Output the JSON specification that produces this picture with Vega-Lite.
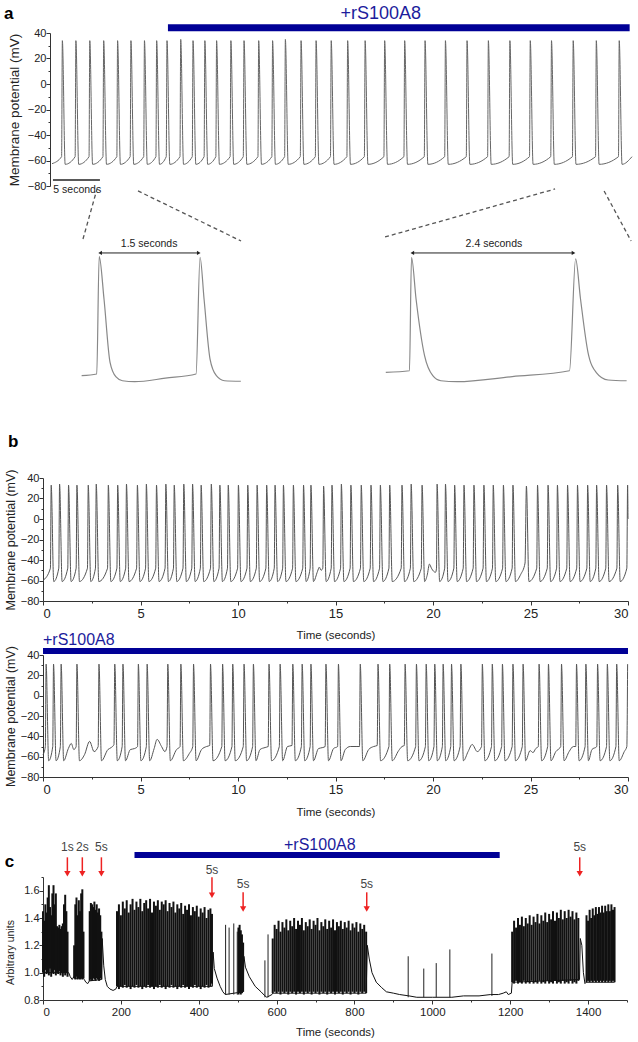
{
"$schema":"https://vega.github.io/schema/vega-lite/v6.json",
"padding":{"left":4,"top":4,"right":0,"bottom":0},
"bounds":"flush",
"spacing":0,
"config":{
 "view":{"stroke":null},
 "font":"Liberation Sans",
 "axis":{"grid":false,"labelOverlap":false,"tickCount":100,"domainColor":"#333","tickColor":"#333","labelColor":"#222","titleColor":"#222","labelFont":"Liberation Sans","titleFont":"Liberation Sans","titleFontWeight":"normal","labelFontSize":11,"titleFontSize":11.5},
 "axisX":{"tickSize":4,"labelPadding":2},
 "axisY":{"tickSize":3,"labelPadding":0}
},
"datasets":{
 "a":[{"t":0.96,"v":-62.5},{"t":1.98,"v":-57},
{"t":2.06,"v":34},{"t":2.36,"v":-63},{"t":3.42,"v":-57},
{"t":3.5,"v":34},{"t":3.8,"v":-63},{"t":4.9,"v":-57},
{"t":4.98,"v":34},{"t":5.28,"v":-63},{"t":6.38,"v":-57},
{"t":6.46,"v":34},{"t":6.76,"v":-63},{"t":7.86,"v":-57},
{"t":7.94,"v":34},{"t":8.24,"v":-63},{"t":9.28,"v":-57},
{"t":9.36,"v":34},{"t":9.66,"v":-63},{"t":10.72,"v":-57},
{"t":10.8,"v":34},{"t":11.1,"v":-63},{"t":12.02,"v":-57},
{"t":12.1,"v":34},{"t":12.4,"v":-63},{"t":13.12,"v":-57},
{"t":13.2,"v":34},{"t":13.5,"v":-63},{"t":14.58,"v":-57},
{"t":14.66,"v":35},{"t":14.96,"v":-63},{"t":15.89,"v":-57},
{"t":15.97,"v":34},{"t":16.27,"v":-63},{"t":17.15,"v":-57},
{"t":17.23,"v":34},{"t":17.53,"v":-63},{"t":18.4,"v":-57},
{"t":18.48,"v":34},{"t":18.78,"v":-63},{"t":19.92,"v":-57},
{"t":20.0,"v":34},{"t":20.3,"v":-63},{"t":21.32,"v":-57},
{"t":21.4,"v":34},{"t":21.7,"v":-63},{"t":22.88,"v":-57},
{"t":22.96,"v":34},{"t":23.26,"v":-63},{"t":24.36,"v":-57},
{"t":24.44,"v":34},{"t":24.74,"v":-63},{"t":25.72,"v":-57},
{"t":25.8,"v":35},{"t":26.1,"v":-63},{"t":27.39,"v":-57},
{"t":27.47,"v":34},{"t":27.77,"v":-63},{"t":28.99,"v":-57},
{"t":29.07,"v":34},{"t":29.37,"v":-63},{"t":30.6,"v":-57},
{"t":30.68,"v":34},{"t":30.98,"v":-63},{"t":32.35,"v":-57},
{"t":32.43,"v":34},{"t":32.73,"v":-63},{"t":34.21,"v":-57},
{"t":34.29,"v":34},{"t":34.59,"v":-63},{"t":36.29,"v":-57},
{"t":36.37,"v":34},{"t":36.67,"v":-63},{"t":38.42,"v":-57},
{"t":38.5,"v":34},{"t":38.8,"v":-63},{"t":40.59,"v":-57},
{"t":40.67,"v":34},{"t":40.97,"v":-63},{"t":42.76,"v":-57},
{"t":42.84,"v":34},{"t":43.14,"v":-63},{"t":45.06,"v":-57},
{"t":45.14,"v":34},{"t":45.44,"v":-63},{"t":47.33,"v":-57},
{"t":47.41,"v":34},{"t":47.71,"v":-63},{"t":49.62,"v":-57},
{"t":49.7,"v":34},{"t":50.0,"v":-63},{"t":51.79,"v":-57},
{"t":51.87,"v":34},{"t":52.17,"v":-63},{"t":54.05,"v":-57},
{"t":54.13,"v":34},{"t":54.43,"v":-63},{"t":56.36,"v":-57},
{"t":56.44,"v":34},{"t":56.74,"v":-63},{"t":58.82,"v":-57},
{"t":58.9,"v":34},{"t":59.2,"v":-63},{"t":61.26,"v":-57},
{"t":61.34,"v":34},{"t":61.64,"v":-63},{"t":62.7,"v":-57}],
 "ins":[{"t":0.568,"v":-58.3,"s":"L"},{"t":0.79,"v":-57,"s":"L"},{"t":0.826,"v":33.5,"s":"L"},{"t":0.897,"v":0.7,"s":"L"},{"t":0.985,"v":-47.8,"s":"L"},{"t":1.074,"v":-59.3,"s":"L"},{"t":1.168,"v":-62.2,"s":"L"},{"t":1.349,"v":-62.9,"s":"L"},{"t":1.8,"v":-60.2,"s":"L"},{"t":2.25,"v":-57,"s":"L"},{"t":2.309,"v":32.8,"s":"L"},{"t":2.368,"v":0.7,"s":"L"},{"t":2.456,"v":-45.5,"s":"L"},{"t":2.549,"v":-58.3,"s":"L"},{"t":2.669,"v":-62.2,"s":"L"},{"t":2.909,"v":-62.6,"s":"L"},
{"t":5.04,"v":-55.7,"s":"R"},{"t":5.388,"v":-54.5,"s":"R"},{"t":5.418,"v":32.8,"s":"R"},{"t":5.485,"v":0.7,"s":"R"},{"t":5.61,"v":-42.9,"s":"R"},{"t":5.731,"v":-58.3,"s":"R"},{"t":5.85,"v":-62.2,"s":"R"},{"t":6.088,"v":-62.9,"s":"R"},{"t":6.9,"v":-59,"s":"R"},{"t":7.741,"v":-54.5,"s":"R"},{"t":7.831,"v":31.5,"s":"R"},{"t":7.903,"v":0.7,"s":"R"},{"t":8.012,"v":-40.1,"s":"R"},{"t":8.132,"v":-55.7,"s":"R"},{"t":8.309,"v":-61.6,"s":"R"},{"t":8.581,"v":-62.2,"s":"R"}],
 "dash":[{"t":0.794,"v":85.3,"s":"1"},{"t":0.588,"v":46.8,"s":"1"},{"t":1.397,"v":83.8,"s":"2"},{"t":2.912,"v":45.3,"s":"2"},{"t":7.529,"v":85.3,"s":"3"},{"t":5.029,"v":48.4,"s":"3"},{"t":8.25,"v":83.8,"s":"4"},{"t":8.647,"v":45.3,"s":"4"}],
 "arr":[{"t0":0.84,"t1":2.29,"tm":1.56,"v":36.1,"s":"1.5 seconds"},{"t0":5.43,"t1":7.8,"tm":6.63,"v":36.1,"s":"2.4 seconds"}],
 "b1":[{"t":0,"v":-60},{"t":0.38,"v":-48},
{"t":0.42,"v":33},{"t":0.55,"v":-61},{"t":0.81,"v":-48},
{"t":0.85,"v":34},{"t":0.98,"v":-61},{"t":1.27,"v":-48},
{"t":1.31,"v":33},{"t":1.44,"v":-61},{"t":1.7,"v":-48},
{"t":1.74,"v":33},{"t":1.87,"v":-61},{"t":2.28,"v":-48},
{"t":2.32,"v":33},{"t":2.45,"v":-61},{"t":2.69,"v":-48},
{"t":2.73,"v":34},{"t":2.86,"v":-61},{"t":3.31,"v":-48},
{"t":3.35,"v":33},{"t":3.48,"v":-61},{"t":3.79,"v":-48},
{"t":3.83,"v":33},{"t":3.96,"v":-61},{"t":4.24,"v":-48},
{"t":4.28,"v":34},{"t":4.41,"v":-61},{"t":4.8,"v":-48},
{"t":4.84,"v":33},{"t":4.97,"v":-61},{"t":5.26,"v":-48},
{"t":5.3,"v":34},{"t":5.43,"v":-61},{"t":5.78,"v":-48},
{"t":5.82,"v":33},{"t":5.95,"v":-61},{"t":6.26,"v":-48},
{"t":6.3,"v":34},{"t":6.43,"v":-61},{"t":6.69,"v":-48},
{"t":6.73,"v":33},{"t":6.86,"v":-61},{"t":7.18,"v":-48},
{"t":7.22,"v":34},{"t":7.35,"v":-61},{"t":7.63,"v":-48},
{"t":7.67,"v":34},{"t":7.8,"v":-61},{"t":8.07,"v":-48},
{"t":8.11,"v":33},{"t":8.24,"v":-61},{"t":8.59,"v":-48},
{"t":8.63,"v":34},{"t":8.76,"v":-61},{"t":9.03,"v":-48},
{"t":9.07,"v":33},{"t":9.2,"v":-61},{"t":9.46,"v":-48},
{"t":9.5,"v":33},{"t":9.63,"v":-61},{"t":9.98,"v":-48},
{"t":10.02,"v":33},{"t":10.15,"v":-61},{"t":10.46,"v":-48},
{"t":10.5,"v":33},{"t":10.63,"v":-61},{"t":10.94,"v":-48},
{"t":10.98,"v":33},{"t":11.11,"v":-61},{"t":11.43,"v":-48},
{"t":11.47,"v":33},{"t":11.6,"v":-61},{"t":11.86,"v":-48},
{"t":11.9,"v":33},{"t":12.03,"v":-61},{"t":12.29,"v":-48},
{"t":12.33,"v":33},{"t":12.46,"v":-61},{"t":12.8,"v":-48},
{"t":12.84,"v":33},{"t":12.97,"v":-61},{"t":13.32,"v":-48},
{"t":13.36,"v":33},{"t":13.49,"v":-61},{"t":13.7,"v":-48},
{"t":13.74,"v":33},{"t":13.87,"v":-61},{"t":14.08,"v":-51},{"t":14.17,"v":-47},{"t":14.26,"v":-50},{"t":14.35,"v":-48},
{"t":14.39,"v":32},{"t":14.52,"v":-61},{"t":14.78,"v":-48},
{"t":14.82,"v":33},{"t":14.95,"v":-61},{"t":15.26,"v":-48},
{"t":15.3,"v":34},{"t":15.43,"v":-61},{"t":15.75,"v":-48},
{"t":15.79,"v":33},{"t":15.92,"v":-61},{"t":16.28,"v":-48},
{"t":16.32,"v":33},{"t":16.45,"v":-61},{"t":16.78,"v":-48},
{"t":16.82,"v":33},{"t":16.95,"v":-61},{"t":17.26,"v":-48},
{"t":17.3,"v":33},{"t":17.43,"v":-61},{"t":17.74,"v":-48},
{"t":17.78,"v":33},{"t":17.91,"v":-61},{"t":18.37,"v":-48},
{"t":18.41,"v":33},{"t":18.54,"v":-61},{"t":18.84,"v":-48},
{"t":18.88,"v":34},{"t":19.01,"v":-61},{"t":19.4,"v":-48},
{"t":19.44,"v":33},{"t":19.57,"v":-61},{"t":19.7,"v":-55},{"t":19.82,"v":-44},{"t":19.92,"v":-48},{"t":20.03,"v":-51},{"t":20.13,"v":-52},{"t":20.18,"v":-48},
{"t":20.21,"v":34},{"t":20.34,"v":-61},{"t":20.6,"v":-48},
{"t":20.64,"v":34},{"t":20.77,"v":-61},{"t":21.07,"v":-48},
{"t":21.11,"v":33},{"t":21.24,"v":-61},{"t":21.55,"v":-48},
{"t":21.59,"v":33},{"t":21.72,"v":-61},{"t":22.06,"v":-48},
{"t":22.1,"v":33},{"t":22.23,"v":-61},{"t":22.57,"v":-48},
{"t":22.61,"v":33},{"t":22.74,"v":-61},{"t":23.05,"v":-48},
{"t":23.09,"v":33},{"t":23.22,"v":-61},{"t":23.57,"v":-48},
{"t":23.61,"v":33},{"t":23.74,"v":-61},{"t":24.06,"v":-48},
{"t":24.1,"v":33},{"t":24.23,"v":-61},{"t":24.5,"v":-54},{"t":24.72,"v":-43},
{"t":24.79,"v":32},{"t":24.92,"v":-61},{"t":25.32,"v":-48},
{"t":25.36,"v":33},{"t":25.49,"v":-61},{"t":25.86,"v":-48},
{"t":25.9,"v":33},{"t":26.03,"v":-61},{"t":26.34,"v":-48},
{"t":26.38,"v":33},{"t":26.51,"v":-61},{"t":26.86,"v":-48},
{"t":26.9,"v":33},{"t":27.03,"v":-61},{"t":27.37,"v":-48},
{"t":27.41,"v":33},{"t":27.54,"v":-61},{"t":27.89,"v":-48},
{"t":27.93,"v":33},{"t":28.06,"v":-61},{"t":28.35,"v":-48},
{"t":28.39,"v":33},{"t":28.52,"v":-61},{"t":28.86,"v":-48},
{"t":28.9,"v":33},{"t":29.03,"v":-61},{"t":29.43,"v":-48},
{"t":29.47,"v":33},{"t":29.6,"v":-61},{"t":29.94,"v":-48},
{"t":29.98,"v":33},{"t":30.0,"v":0}],
 "b2":[{"t":0,"v":-58},{"t":0.12,"v":-50},
{"t":0.16,"v":31},{"t":0.29,"v":-64},{"t":0.5,"v":-50},
{"t":0.54,"v":31},{"t":0.67,"v":-64},{"t":0.89,"v":-50},
{"t":0.93,"v":31},{"t":1.06,"v":-64},{"t":1.3,"v":-52},{"t":1.45,"v":-47},{"t":1.58,"v":-53},{"t":1.7,"v":-50},
{"t":1.74,"v":31},{"t":1.87,"v":-64},{"t":2.13,"v":-58},{"t":2.39,"v":-45},{"t":2.62,"v":-55},{"t":2.83,"v":-50},
{"t":2.87,"v":31},{"t":3.0,"v":-64},{"t":3.33,"v":-53},{"t":3.5,"v":-51},{"t":3.64,"v":-48},
{"t":3.68,"v":31},{"t":3.81,"v":-64},{"t":4.06,"v":-50},
{"t":4.1,"v":31},{"t":4.23,"v":-64},{"t":4.48,"v":-53},{"t":4.7,"v":-52},{"t":4.85,"v":-50},
{"t":4.89,"v":31},{"t":5.02,"v":-64},{"t":5.3,"v":-50},
{"t":5.34,"v":31},{"t":5.47,"v":-64},{"t":5.7,"v":-52},{"t":5.85,"v":-43},{"t":6.08,"v":-50},{"t":6.25,"v":-55},{"t":6.36,"v":-50},
{"t":6.4,"v":31},{"t":6.53,"v":-64},{"t":6.85,"v":-53},{"t":7.03,"v":-50},
{"t":7.07,"v":31},{"t":7.2,"v":-64},{"t":7.5,"v":-57},{"t":7.68,"v":-50},
{"t":7.72,"v":31},{"t":7.85,"v":-64},{"t":8.13,"v":-53},{"t":8.39,"v":-50},{"t":8.55,"v":-49},
{"t":8.59,"v":31},{"t":8.72,"v":-64},{"t":9.17,"v":-50},
{"t":9.21,"v":31},{"t":9.34,"v":-64},{"t":9.69,"v":-50},
{"t":9.73,"v":31},{"t":9.86,"v":-64},{"t":10.27,"v":-50},
{"t":10.31,"v":31},{"t":10.44,"v":-64},{"t":10.75,"v":-50},
{"t":10.79,"v":31},{"t":10.92,"v":-64},{"t":11.13,"v":-53},{"t":11.39,"v":-51},{"t":11.55,"v":-50},
{"t":11.59,"v":31},{"t":11.72,"v":-64},{"t":12.12,"v":-50},
{"t":12.16,"v":31},{"t":12.29,"v":-64},{"t":12.54,"v":-50},{"t":12.77,"v":-49},
{"t":12.81,"v":31},{"t":12.94,"v":-64},{"t":13.25,"v":-50},
{"t":13.29,"v":31},{"t":13.42,"v":-64},{"t":13.7,"v":-50},
{"t":13.74,"v":31},{"t":13.87,"v":-64},{"t":14.13,"v":-52},{"t":14.35,"v":-51},{"t":14.47,"v":-50},
{"t":14.51,"v":31},{"t":14.64,"v":-64},{"t":14.9,"v":-52},{"t":15.11,"v":-50},
{"t":15.15,"v":31},{"t":15.28,"v":-64},{"t":15.5,"v":-53},{"t":15.76,"v":-50},{"t":16.1,"v":-50},{"t":16.23,"v":-50},
{"t":16.27,"v":31},{"t":16.4,"v":-64},{"t":16.7,"v":-53},{"t":16.96,"v":-50},{"t":17.14,"v":-49},
{"t":17.18,"v":31},{"t":17.31,"v":-64},{"t":17.74,"v":-50},
{"t":17.78,"v":31},{"t":17.91,"v":-64},{"t":18.24,"v":-54},{"t":18.41,"v":-50},{"t":18.53,"v":-49},
{"t":18.57,"v":31},{"t":18.7,"v":-64},{"t":19.11,"v":-50},
{"t":19.15,"v":31},{"t":19.28,"v":-64},{"t":19.61,"v":-50},
{"t":19.65,"v":31},{"t":19.78,"v":-64},{"t":20.05,"v":-50},
{"t":20.09,"v":31},{"t":20.22,"v":-64},{"t":20.48,"v":-50},
{"t":20.52,"v":31},{"t":20.65,"v":-64},{"t":20.91,"v":-50},
{"t":20.95,"v":31},{"t":21.08,"v":-64},{"t":21.39,"v":-50},
{"t":21.43,"v":31},{"t":21.56,"v":-64},{"t":21.8,"v":-55},{"t":22.01,"v":-48},{"t":22.27,"v":-55},{"t":22.49,"v":-50},
{"t":22.53,"v":31},{"t":22.66,"v":-64},{"t":23.0,"v":-50},
{"t":23.04,"v":31},{"t":23.17,"v":-64},{"t":23.52,"v":-50},
{"t":23.56,"v":31},{"t":23.69,"v":-64},{"t":24.06,"v":-50},
{"t":24.1,"v":31},{"t":24.23,"v":-64},{"t":24.58,"v":-50},
{"t":24.62,"v":31},{"t":24.75,"v":-64},{"t":24.98,"v":-54},{"t":25.13,"v":-56},{"t":25.27,"v":-52},{"t":25.4,"v":-50},
{"t":25.44,"v":31},{"t":25.57,"v":-64},{"t":25.88,"v":-50},
{"t":25.92,"v":31},{"t":26.05,"v":-64},{"t":26.3,"v":-55},{"t":26.55,"v":-50},
{"t":26.59,"v":31},{"t":26.72,"v":-64},{"t":26.98,"v":-55},{"t":27.2,"v":-50},{"t":27.32,"v":-50},
{"t":27.36,"v":31},{"t":27.49,"v":-64},{"t":27.8,"v":-50},
{"t":27.84,"v":31},{"t":27.97,"v":-64},{"t":28.15,"v":-53},{"t":28.4,"v":-50},
{"t":28.44,"v":31},{"t":28.57,"v":-64},{"t":28.9,"v":-50},
{"t":28.94,"v":31},{"t":29.07,"v":-64},{"t":29.38,"v":-50},
{"t":29.42,"v":31},{"t":29.55,"v":-64},{"t":29.81,"v":-55},{"t":29.94,"v":-50},
{"t":29.98,"v":31}],
 "cl":[{"t":0,"v":1.0},{"t":63,"v":1.0},{"t":66,"v":1.0},{"t":70,"v":0.97},{"t":75,"v":0.95},{"t":79,"v":0.97},{"t":80,"v":0.96},{"t":104,"v":0.96},{"t":106,"v":0.95},{"t":110,"v":0.93},{"t":115,"v":0.92},{"t":119,"v":0.94},{"t":120,"v":0.94},{"t":150,"v":0.95},{"t":152,"v":1.25},{"t":156,"v":1.05},{"t":160,"v":0.95},{"t":165,"v":0.9},{"t":172,"v":0.88},{"t":180,"v":0.87},{"t":187,"v":0.88},{"t":190,"v":0.9},{"t":435,"v":0.9},{"t":437,"v":1.15},{"t":440,"v":1.03},{"t":447,"v":0.96},{"t":455,"v":0.9},{"t":462,"v":0.86},{"t":468,"v":0.84},{"t":514,"v":0.86},{"t":516,"v":1.12},{"t":520,"v":1.04},{"t":530,"v":0.97},{"t":545,"v":0.9},{"t":560,"v":0.86},{"t":570,"v":0.83},{"t":575,"v":0.82},{"t":588,"v":0.84},{"t":590,"v":0.85},{"t":830,"v":0.85},{"t":833,"v":1.2},{"t":838,"v":1.1},{"t":845,"v":1.0},{"t":856,"v":0.93},{"t":870,"v":0.89},{"t":882,"v":0.86},{"t":900,"v":0.85},{"t":916,"v":0.84},{"t":940,"v":0.83},{"t":960,"v":0.82},{"t":1000,"v":0.82},{"t":1050,"v":0.82},{"t":1080,"v":0.83},{"t":1120,"v":0.83},{"t":1150,"v":0.84},{"t":1170,"v":0.84},{"t":1182,"v":0.85},{"t":1190,"v":0.86},{"t":1195,"v":0.84},{"t":1203,"v":0.85},{"t":1205,"v":0.93},{"t":1378,"v":0.95},{"t":1380,"v":1.25},{"t":1384,"v":1.2},{"t":1388,"v":1.0},{"t":1392,"v":0.92},{"t":1395,"v":0.93},{"t":1468,"v":0.93}],
 "cr":[{"t":0,"a":1.0,"b":1.45},{"t":3,"a":0.97,"b":1.38},{"t":6,"a":1.02,"b":1.5},{"t":9,"a":0.99,"b":1.44},{"t":12,"a":1.0,"b":1.55},{"t":15,"a":0.98,"b":1.64},{"t":18,"a":1.03,"b":1.48},{"t":21,"a":0.97,"b":1.42},{"t":24,"a":1.0,"b":1.58},{"t":27,"a":0.99,"b":1.64},{"t":30,"a":1.02,"b":1.5},{"t":33,"a":0.98,"b":1.58},{"t":36,"a":1.0,"b":1.34},{"t":39,"a":0.99,"b":1.33},{"t":42,"a":1.01,"b":1.35},{"t":45,"a":0.98,"b":1.32},{"t":48,"a":1.0,"b":1.34},{"t":51,"a":0.97,"b":1.36},{"t":54,"a":1.0,"b":1.5},{"t":57,"a":0.98,"b":1.57},{"t":60,"a":1.0,"b":1.45},{"t":63,"a":0.97,"b":1.3},
{"t":80,"a":0.96,"b":1.2},{"t":83,"a":0.95,"b":1.5},{"t":86,"a":0.97,"b":1.55},{"t":89,"a":0.95,"b":1.42},{"t":92,"a":0.96,"b":1.53},{"t":95,"a":0.95,"b":1.45},{"t":98,"a":0.96,"b":1.58},{"t":101,"a":0.95,"b":1.61},{"t":104,"a":0.96,"b":1.3},
{"t":120,"a":0.94,"b":1.45},{"t":123,"a":0.95,"b":1.51},{"t":126,"a":0.94,"b":1.5},{"t":129,"a":0.96,"b":1.48},{"t":132,"a":0.95,"b":1.52},{"t":135,"a":0.94,"b":1.46},{"t":138,"a":0.96,"b":1.5},{"t":141,"a":0.95,"b":1.44},{"t":144,"a":0.94,"b":1.47},{"t":147,"a":0.96,"b":1.42},{"t":150,"a":0.95,"b":1.3},
{"t":190,"a":0.9,"b":1.45},{"t":195,"a":0.88,"b":1.5},{"t":200,"a":0.9,"b":1.42},{"t":205,"a":0.89,"b":1.52},{"t":210,"a":0.91,"b":1.47},{"t":215,"a":0.89,"b":1.53},{"t":220,"a":0.9,"b":1.44},{"t":225,"a":0.88,"b":1.5},{"t":230,"a":0.9,"b":1.54},{"t":235,"a":0.89,"b":1.46},{"t":240,"a":0.91,"b":1.52},{"t":245,"a":0.89,"b":1.48},{"t":250,"a":0.9,"b":1.54},{"t":255,"a":0.88,"b":1.45},{"t":260,"a":0.9,"b":1.51},{"t":265,"a":0.89,"b":1.53},{"t":270,"a":0.91,"b":1.47},{"t":275,"a":0.89,"b":1.54},{"t":280,"a":0.9,"b":1.44},{"t":285,"a":0.88,"b":1.52},{"t":290,"a":0.9,"b":1.49},{"t":295,"a":0.89,"b":1.53},{"t":300,"a":0.91,"b":1.46},{"t":305,"a":0.89,"b":1.52},{"t":310,"a":0.9,"b":1.5},{"t":315,"a":0.88,"b":1.53},{"t":320,"a":0.9,"b":1.45},{"t":325,"a":0.89,"b":1.51},{"t":330,"a":0.91,"b":1.48},{"t":335,"a":0.89,"b":1.52},{"t":340,"a":0.9,"b":1.44},{"t":345,"a":0.88,"b":1.5},{"t":350,"a":0.9,"b":1.47},{"t":355,"a":0.89,"b":1.51},{"t":360,"a":0.91,"b":1.43},{"t":365,"a":0.89,"b":1.49},{"t":370,"a":0.9,"b":1.46},{"t":375,"a":0.88,"b":1.5},{"t":380,"a":0.9,"b":1.42},{"t":385,"a":0.89,"b":1.48},{"t":390,"a":0.91,"b":1.45},{"t":395,"a":0.89,"b":1.49},{"t":400,"a":0.9,"b":1.41},{"t":405,"a":0.88,"b":1.47},{"t":410,"a":0.9,"b":1.44},{"t":415,"a":0.89,"b":1.48},{"t":420,"a":0.91,"b":1.4},{"t":425,"a":0.89,"b":1.46},{"t":430,"a":0.9,"b":1.47},{"t":434,"a":0.92,"b":1.43},
{"t":502,"a":0.84,"b":1.33},{"t":505,"a":0.85,"b":1.35},{"t":508,"a":0.84,"b":1.31},{"t":511,"a":0.85,"b":1.28},{"t":514,"a":0.86,"b":1.22},
{"t":590,"a":0.85,"b":1.25},{"t":595,"a":0.86,"b":1.35},{"t":600,"a":0.85,"b":1.32},{"t":605,"a":0.86,"b":1.38},{"t":610,"a":0.84,"b":1.3},{"t":615,"a":0.86,"b":1.37},{"t":620,"a":0.85,"b":1.33},{"t":625,"a":0.86,"b":1.39},{"t":630,"a":0.84,"b":1.31},{"t":635,"a":0.86,"b":1.38},{"t":640,"a":0.85,"b":1.34},{"t":645,"a":0.86,"b":1.4},{"t":650,"a":0.84,"b":1.32},{"t":655,"a":0.86,"b":1.38},{"t":660,"a":0.85,"b":1.35},{"t":665,"a":0.86,"b":1.4},{"t":670,"a":0.84,"b":1.31},{"t":675,"a":0.86,"b":1.37},{"t":680,"a":0.85,"b":1.34},{"t":685,"a":0.86,"b":1.39},{"t":690,"a":0.84,"b":1.32},{"t":695,"a":0.86,"b":1.38},{"t":700,"a":0.85,"b":1.35},{"t":705,"a":0.86,"b":1.4},{"t":710,"a":0.84,"b":1.31},{"t":715,"a":0.86,"b":1.37},{"t":720,"a":0.85,"b":1.34},{"t":725,"a":0.86,"b":1.39},{"t":730,"a":0.84,"b":1.32},{"t":735,"a":0.86,"b":1.38},{"t":740,"a":0.85,"b":1.33},{"t":745,"a":0.86,"b":1.39},{"t":750,"a":0.84,"b":1.31},{"t":755,"a":0.86,"b":1.37},{"t":760,"a":0.85,"b":1.34},{"t":765,"a":0.86,"b":1.38},{"t":770,"a":0.84,"b":1.32},{"t":775,"a":0.86,"b":1.37},{"t":780,"a":0.85,"b":1.33},{"t":785,"a":0.86,"b":1.38},{"t":790,"a":0.84,"b":1.31},{"t":795,"a":0.86,"b":1.36},{"t":800,"a":0.85,"b":1.33},{"t":805,"a":0.86,"b":1.37},{"t":810,"a":0.84,"b":1.3},{"t":815,"a":0.86,"b":1.36},{"t":820,"a":0.85,"b":1.32},{"t":825,"a":0.86,"b":1.35},{"t":830,"a":0.85,"b":1.3},
{"t":1205,"a":0.93,"b":1.3},{"t":1210,"a":0.92,"b":1.38},{"t":1215,"a":0.94,"b":1.33},{"t":1220,"a":0.92,"b":1.4},{"t":1225,"a":0.93,"b":1.35},{"t":1230,"a":0.92,"b":1.41},{"t":1235,"a":0.94,"b":1.34},{"t":1240,"a":0.92,"b":1.4},{"t":1245,"a":0.93,"b":1.36},{"t":1250,"a":0.92,"b":1.42},{"t":1255,"a":0.94,"b":1.35},{"t":1260,"a":0.92,"b":1.41},{"t":1265,"a":0.93,"b":1.37},{"t":1270,"a":0.92,"b":1.43},{"t":1275,"a":0.94,"b":1.36},{"t":1280,"a":0.92,"b":1.42},{"t":1285,"a":0.93,"b":1.38},{"t":1290,"a":0.92,"b":1.44},{"t":1295,"a":0.94,"b":1.37},{"t":1300,"a":0.92,"b":1.43},{"t":1305,"a":0.93,"b":1.39},{"t":1310,"a":0.92,"b":1.45},{"t":1315,"a":0.94,"b":1.38},{"t":1320,"a":0.92,"b":1.44},{"t":1325,"a":0.93,"b":1.4},{"t":1330,"a":0.92,"b":1.46},{"t":1335,"a":0.94,"b":1.39},{"t":1340,"a":0.92,"b":1.45},{"t":1345,"a":0.93,"b":1.4},{"t":1350,"a":0.92,"b":1.46},{"t":1355,"a":0.94,"b":1.41},{"t":1360,"a":0.92,"b":1.45},{"t":1365,"a":0.93,"b":1.39},{"t":1370,"a":0.92,"b":1.44},{"t":1375,"a":0.94,"b":1.4},
{"t":1396,"a":0.93,"b":1.42},{"t":1400,"a":0.94,"b":1.38},{"t":1404,"a":0.93,"b":1.46},{"t":1408,"a":0.94,"b":1.4},{"t":1412,"a":0.93,"b":1.47},{"t":1416,"a":0.94,"b":1.42},{"t":1420,"a":0.93,"b":1.48},{"t":1424,"a":0.94,"b":1.43},{"t":1428,"a":0.93,"b":1.48},{"t":1432,"a":0.94,"b":1.44},{"t":1436,"a":0.93,"b":1.49},{"t":1440,"a":0.94,"b":1.44},{"t":1444,"a":0.93,"b":1.49},{"t":1448,"a":0.94,"b":1.45},{"t":1452,"a":0.93,"b":1.5},{"t":1456,"a":0.94,"b":1.45},{"t":1460,"a":0.93,"b":1.5},{"t":1464,"a":0.94,"b":1.46},{"t":1468,"a":0.93,"b":1.48}],
 "ct":[{"t":469,"a":0.84,"b":1.35},{"t":478,"a":0.84,"b":1.33},{"t":490,"a":0.84,"b":1.36},{"t":499,"a":0.84,"b":1.3},{"t":570,"a":0.82,"b":1.09},{"t":578,"a":0.82,"b":1.28},{"t":938,"a":0.82,"b":1.12},{"t":978,"a":0.82,"b":1.03},{"t":1010,"a":0.82,"b":1.07},{"t":1045,"a":0.82,"b":1.17},{"t":1153,"a":0.83,"b":1.14}],
 "car":[{"t":62.6,"top":1.844,"end":1.73,"hd":1.724,"lb":1.892,"s":"1s"},{"t":101,"top":1.844,"end":1.73,"hd":1.724,"lb":1.892,"s":"2s"},{"t":150,"top":1.844,"end":1.73,"hd":1.724,"lb":1.892,"s":"5s"},{"t":434,"top":1.698,"end":1.57,"hd":1.566,"lb":1.722,"s":"5s"},{"t":514,"top":1.588,"end":1.47,"hd":1.466,"lb":1.617,"s":"5s"},{"t":831.5,"top":1.588,"end":1.47,"hd":1.466,"lb":1.617,"s":"5s"},{"t":1378.6,"top":1.844,"end":1.73,"hd":1.724,"lb":1.892,"s":"5s"}]
},
"vconcat":[
 {"width":589,"height":153,"layer":[
  {"data":{"name":"a"},"mark":{"type":"line","interpolate":"monotone","color":"#666","strokeWidth":1},
   "encoding":{"x":{"field":"t","type":"quantitative","scale":{"domain":[0,62.7],"nice":false,"zero":false},"axis":null},
   "y":{"field":"v","type":"quantitative","scale":{"domain":[-80,40],"nice":false,"zero":false},"axis":{"offset":-7,"tickCount":100,"values":[-80,-70,-60,-50,-40,-30,-20,-10,0,10,20,30,40],"labelExpr":"datum.value % 20 === 0 ? datum.label : ''","tickSize":{"condition":{"test":"datum.value % 20 === 0","value":4},"value":2},"title":"Membrane potential (mV)","titlePadding":5.5,"titleFontSize":13.5}}}},
  {"data":{"values":[{"t0":13.3,"t1":62.45,"v":44.2}]},"mark":{"type":"rule","color":"#000096","strokeWidth":7},"encoding":{"x":{"field":"t0","type":"quantitative"},"x2":{"field":"t1"},"y":{"field":"v","type":"quantitative"}}},
  {"data":{"values":[{"t":35.96,"v":51,"s":"+rS100A8"}]},"mark":{"type":"text","fontSize":18,"color":"#1c1c9c","align":"center","baseline":"alphabetic"},"encoding":{"x":{"field":"t","type":"quantitative"},"y":{"field":"v","type":"quantitative"},"text":{"field":"s"}}},
  {"data":{"values":[{"t0":1.06,"t1":6.06,"v":-75.3}]},"mark":{"type":"rule","color":"#222","strokeWidth":1.5},"encoding":{"x":{"field":"t0","type":"quantitative"},"x2":{"field":"t1"},"y":{"field":"v","type":"quantitative"}}},
  {"data":{"values":[{"t":1.1,"v":-83,"s":"5 seconds"}]},"mark":{"type":"text","fontSize":10.5,"color":"#222","align":"left","baseline":"middle"},"encoding":{"x":{"field":"t","type":"quantitative"},"y":{"field":"v","type":"quantitative"},"text":{"field":"s"}}},
  {"data":{"values":[{"t":-4.15,"v":51,"s":"a"}]},"mark":{"type":"text","fontSize":17,"fontWeight":"bold","color":"#000","align":"left","baseline":"alphabetic"},"encoding":{"x":{"field":"t","type":"quantitative"},"y":{"field":"v","type":"quantitative"},"text":{"field":"s"}}}
 ]},
 {"width":589,"height":292,"layer":[
  {"data":{"name":"ins"},"mark":{"type":"line","interpolate":"monotone","color":"#888","strokeWidth":1.2},"encoding":{"x":{"field":"t","type":"quantitative","scale":{"domain":[0,8.66],"nice":false,"zero":false},"axis":null},"y":{"field":"v","type":"quantitative","scale":{"domain":[-137,87.6],"nice":false,"zero":false},"axis":null},"detail":{"field":"s"}}},
  {"data":{"name":"dash"},"mark":{"type":"line","color":"#555","strokeWidth":1.3,"strokeDash":[4,3]},"encoding":{"x":{"field":"t","type":"quantitative"},"y":{"field":"v","type":"quantitative"},"detail":{"field":"s"}}},
  {"data":{"name":"arr"},"mark":{"type":"rule","color":"#222","strokeWidth":1},"encoding":{"x":{"field":"t0","type":"quantitative"},"x2":{"field":"t1"},"y":{"field":"v","type":"quantitative"}}},
  {"data":{"name":"arr"},"mark":{"type":"point","shape":"triangle-left","filled":true,"color":"#222","size":18,"opacity":1},"encoding":{"x":{"field":"t0","type":"quantitative"},"y":{"field":"v","type":"quantitative"}}},
  {"data":{"name":"arr"},"mark":{"type":"point","shape":"triangle-right","filled":true,"color":"#222","size":18,"opacity":1},"encoding":{"x":{"field":"t1","type":"quantitative"},"y":{"field":"v","type":"quantitative"}}},
  {"data":{"name":"arr"},"mark":{"type":"text","fontSize":10.5,"color":"#222","align":"center","baseline":"alphabetic","dy":-6},"encoding":{"x":{"field":"tm","type":"quantitative"},"y":{"field":"v","type":"quantitative"},"text":{"field":"s"}}}
 ]},
 {"width":585,"height":123,"layer":[
  {"data":{"name":"b1"},"mark":{"type":"line","interpolate":"monotone","color":"#555","strokeWidth":1},
   "encoding":{"x":{"field":"t","type":"quantitative","scale":{"domain":[0,30],"nice":false,"zero":false},"axis":{"tickCount":100,"format":"d","values":[0,2.5,5,7.5,10,12.5,15,17.5,20,22.5,25,27.5,30],"labelExpr":"datum.value % 5 === 0 ? datum.label : ''","tickSize":{"condition":{"test":"datum.value % 5 === 0","value":4},"value":2},"title":"Time (seconds)","labelFontSize":13,"titlePadding":9}},
   "y":{"field":"v","type":"quantitative","scale":{"domain":[-80,40],"nice":false,"zero":false},"axis":{"tickCount":100,"values":[-80,-70,-60,-50,-40,-30,-20,-10,0,10,20,30,40],"labelExpr":"datum.value % 20 === 0 ? datum.label : ''","tickSize":{"condition":{"test":"datum.value % 20 === 0","value":4},"value":2},"title":"Membrane potential (mV)","titlePadding":2.5,"titleFontSize":12.5}}}},
  {"data":{"values":[{"t":-1.8,"v":70.2,"s":"b"}]},"mark":{"type":"text","fontSize":17,"fontWeight":"bold","color":"#000","align":"left","baseline":"alphabetic"},"encoding":{"x":{"field":"t","type":"quantitative"},"y":{"field":"v","type":"quantitative"},"text":{"field":"s"}}}
 ]},
 {"width":585,"height":54,"data":{"values":[]},"mark":"point"},
 {"width":585,"height":122,"layer":[
  {"data":{"name":"b2"},"mark":{"type":"line","interpolate":"monotone","color":"#555","strokeWidth":1},
   "encoding":{"x":{"field":"t","type":"quantitative","scale":{"domain":[0,30],"nice":false,"zero":false},"axis":{"tickCount":100,"format":"d","values":[0,2.5,5,7.5,10,12.5,15,17.5,20,22.5,25,27.5,30],"labelExpr":"datum.value % 5 === 0 ? datum.label : ''","tickSize":{"condition":{"test":"datum.value % 5 === 0","value":4},"value":2},"title":"Time (seconds)","labelFontSize":13,"titlePadding":10}},
   "y":{"field":"v","type":"quantitative","scale":{"domain":[-80,40],"nice":false,"zero":false},"axis":{"tickCount":100,"values":[-80,-70,-60,-50,-40,-30,-20,-10,0,10,20,30,40],"labelExpr":"datum.value % 20 === 0 ? datum.label : ''","tickSize":{"condition":{"test":"datum.value % 20 === 0","value":4},"value":2},"title":"Membrane potential (mV)","titlePadding":2.5,"titleFontSize":12.5}}}},
  {"data":{"values":[{"t0":0,"t1":30,"v":43.9}]},"mark":{"type":"rule","color":"#000096","strokeWidth":6},"encoding":{"x":{"field":"t0","type":"quantitative"},"x2":{"field":"t1"},"y":{"field":"v","type":"quantitative"}}},
  {"data":{"values":[{"t":0,"v":49.8,"s":"+rS100A8"}]},"mark":{"type":"text","fontSize":16,"color":"#1c1c9c","align":"left","baseline":"alphabetic"},"encoding":{"x":{"field":"t","type":"quantitative"},"y":{"field":"v","type":"quantitative"},"text":{"field":"s"}}}
 ]},
 {"width":585,"height":100,"data":{"values":[]},"mark":"point"},
 {"width":584,"height":123,"layer":[
  {"data":{"name":"cl"},"mark":{"type":"line","color":"#111","strokeWidth":1},
   "encoding":{"x":{"field":"t","type":"quantitative","scale":{"domain":[0,1500],"nice":false,"zero":false},"axis":{"tickCount":100,"values":[0,100,200,300,400,500,600,700,800,900,1000,1100,1200,1300,1400,1500],"format":"d","labelExpr":"datum.value % 200 === 0 ? datum.label : ''","tickSize":{"condition":{"test":"datum.value % 200 === 0","value":4},"value":2},"title":"Time (seconds)","labelFontSize":11.5,"titlePadding":9}},
   "y":{"field":"v","type":"quantitative","scale":{"domain":[0.8,1.7],"nice":false,"zero":false},"axis":{"tickCount":100,"values":[0.8,0.9,1.0,1.1,1.2,1.3,1.4,1.5,1.6,1.7],"labelExpr":"round(datum.value*10) % 2 === 0 ? format(datum.value, '.1f') : ''","tickSize":{"condition":{"test":"round(datum.value*10) % 2 === 0","value":4},"value":2},"title":"Arbitrary units","titlePadding":8,"titleFontSize":10.5,"titleY":75}}}},
  {"data":{"name":"cr"},"mark":{"type":"rule","color":"#111","strokeWidth":2},"encoding":{"x":{"field":"t","type":"quantitative"},"y":{"field":"a","type":"quantitative"},"y2":{"field":"b"}}},
  {"data":{"name":"ct"},"mark":{"type":"rule","color":"#222","strokeWidth":1},"encoding":{"x":{"field":"t","type":"quantitative"},"y":{"field":"a","type":"quantitative"},"y2":{"field":"b"}}},
  {"data":{"values":[{"t0":235,"t1":1173,"v":1.861}]},"mark":{"type":"rule","color":"#000096","strokeWidth":6},"encoding":{"x":{"field":"t0","type":"quantitative"},"x2":{"field":"t1"},"y":{"field":"v","type":"quantitative"}}},
  {"data":{"values":[{"t":711,"v":1.897,"s":"+rS100A8"}]},"mark":{"type":"text","fontSize":16,"color":"#1c1c9c","align":"center","baseline":"alphabetic"},"encoding":{"x":{"field":"t","type":"quantitative"},"y":{"field":"v","type":"quantitative"},"text":{"field":"s"}}},
  {"data":{"name":"car"},"mark":{"type":"rule","color":"#ee2222","strokeWidth":1.5},"encoding":{"x":{"field":"t","type":"quantitative"},"y":{"field":"top","type":"quantitative"},"y2":{"field":"end"}}},
  {"data":{"name":"car"},"mark":{"type":"point","shape":"triangle-down","filled":true,"color":"#ee2222","size":40,"opacity":1},"encoding":{"x":{"field":"t","type":"quantitative"},"y":{"field":"hd","type":"quantitative"}}},
  {"data":{"name":"car"},"mark":{"type":"text","fontSize":12,"color":"#444","align":"center","baseline":"alphabetic"},"encoding":{"x":{"field":"t","type":"quantitative"},"y":{"field":"lb","type":"quantitative"},"text":{"field":"s"}}},
  {"data":{"values":[{"t":-98.4,"v":1.773,"s":"c"}]},"mark":{"type":"text","fontSize":17,"fontWeight":"bold","color":"#000","align":"left","baseline":"alphabetic"},"encoding":{"x":{"field":"t","type":"quantitative"},"y":{"field":"v","type":"quantitative"},"text":{"field":"s"}}}
 ]}
]
}
